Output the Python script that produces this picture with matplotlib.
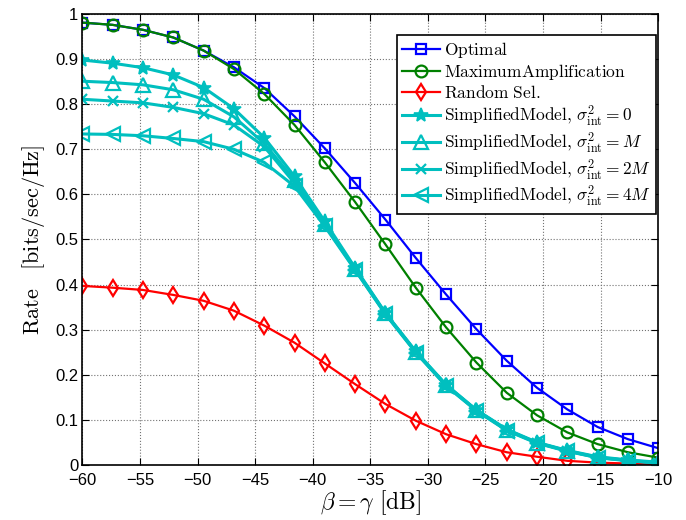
import numpy as np
import matplotlib
matplotlib.use('Agg')
import matplotlib.pyplot as plt

plt.rcParams['mathtext.fontset'] = 'cm'
plt.rcParams['font.family'] = ['Liberation Sans', 'DejaVu Sans']

# beta = gamma in dB, 20 points
beta_db = np.linspace(-60, -10, 20)

optimal = [0.981, 0.976, 0.965, 0.948, 0.919, 0.882, 0.836, 0.773, 0.702, 0.625,
           0.544, 0.459, 0.378, 0.301, 0.231, 0.171, 0.123, 0.084, 0.057, 0.037]
max_amp = [0.981, 0.976, 0.965, 0.948, 0.919, 0.878, 0.823, 0.754, 0.671, 0.583,
           0.489, 0.393, 0.305, 0.227, 0.160, 0.110, 0.072, 0.046, 0.028, 0.016]
random_sel = [0.397, 0.393, 0.388, 0.377, 0.364, 0.342, 0.309, 0.271, 0.225, 0.179,
              0.135, 0.098, 0.068, 0.046, 0.028, 0.018, 0.009, 0.005, 0.003, 0.002]
simp_0 = [0.898, 0.891, 0.881, 0.865, 0.837, 0.790, 0.726, 0.640, 0.540, 0.437,
          0.337, 0.252, 0.178, 0.122, 0.079, 0.050, 0.032, 0.018, 0.011, 0.006]
simp_M = [0.851, 0.848, 0.843, 0.832, 0.811, 0.772, 0.713, 0.632, 0.535, 0.435,
          0.336, 0.251, 0.177, 0.121, 0.078, 0.049, 0.031, 0.017, 0.010, 0.005]
simp_2M = [0.811, 0.807, 0.803, 0.793, 0.779, 0.754, 0.706, 0.625, 0.532, 0.433,
           0.335, 0.250, 0.176, 0.121, 0.077, 0.049, 0.031, 0.016, 0.010, 0.004]
simp_4M = [0.734, 0.733, 0.730, 0.724, 0.717, 0.700, 0.671, 0.618, 0.529, 0.432,
           0.334, 0.249, 0.175, 0.120, 0.076, 0.048, 0.030, 0.016, 0.009, 0.004]

labels = [r'$\mathrm{Optimal}$',
          r'$\mathrm{MaximumAmplification}$',
          r'$\mathrm{Random\ Sel.}$',
          r'$\mathrm{SimplifiedModel,}\,\sigma^2_{\mathrm{int}} = 0$',
          r'$\mathrm{SimplifiedModel,}\,\sigma^2_{\mathrm{int}} = M$',
          r'$\mathrm{SimplifiedModel,}\,\sigma^2_{\mathrm{int}} = 2M$',
          r'$\mathrm{SimplifiedModel,}\,\sigma^2_{\mathrm{int}} = 4M$']

cyan = (0, 0.75, 0.75)
fig = plt.figure(figsize=(6.86, 5.2), dpi=100)
ax = fig.add_axes([0.12, 0.106, 0.8396, 0.867])

lw = 1.6
ax.plot(beta_db, optimal, '-s', color='b', lw=lw, ms=7.5, mfc='none', mew=1.6, label=labels[0])
ax.plot(beta_db, max_amp, '-o', color=(0, 0.5, 0), lw=lw, ms=8.5, mfc='none', mew=1.6, label=labels[1])
ax.plot(beta_db, random_sel, '-d', color='r', lw=lw, ms=8.5, mfc='none', mew=1.6, label=labels[2])
ax.plot(beta_db, simp_0, '-*', color=cyan, lw=2.2, ms=10, mew=1.2, label=labels[3])
ax.plot(beta_db, simp_M, '-^', color=cyan, lw=2.2, ms=9.5, mfc='none', mew=1.6, label=labels[4])
ax.plot(beta_db, simp_2M, '-x', color=cyan, lw=2.2, ms=7, mew=1.6, label=labels[5])
ax.plot(beta_db, simp_4M, '-<', color=cyan, lw=2.2, ms=9.5, mfc='none', mew=1.6, label=labels[6])

ax.set_xlim(-60, -10)
ax.set_ylim(0, 1)
ax.set_xticks(np.arange(-60, -9, 5))
ax.set_yticks(np.arange(0, 1.01, 0.1))
ax.set_yticklabels(['0', '0.1', '0.2', '0.3', '0.4', '0.5', '0.6', '0.7', '0.8', '0.9', '1'])
ax.tick_params(direction='in', top=True, right=True, labelsize=12, length=5)
ax.tick_params(axis='x', pad=6)
ax.tick_params(axis='y', pad=3)
ax.grid(True, linestyle=':', color='0.45', linewidth=0.8)
for s in ax.spines.values():
    s.set_linewidth(1.2)

ax.set_xlabel(r'$\beta = \gamma\ [\mathrm{dB}]$', fontsize=17, labelpad=0)
ax.set_ylabel(r'$\mathrm{Rate}\quad[\mathrm{bits/sec/Hz}]$', fontsize=16, labelpad=6)

leg = ax.legend(loc='upper right', bbox_to_anchor=(656 / 686, 1 - 35 / 520),
                bbox_transform=fig.transFigure, borderaxespad=0, fontsize=12.5,
                fancybox=False, framealpha=1, edgecolor='k', handlelength=2.2,
                handletextpad=0.2, labelspacing=0.12, borderpad=0.3)
leg.get_frame().set_linewidth(1.2)

fig.savefig('out.png', dpi=100)
